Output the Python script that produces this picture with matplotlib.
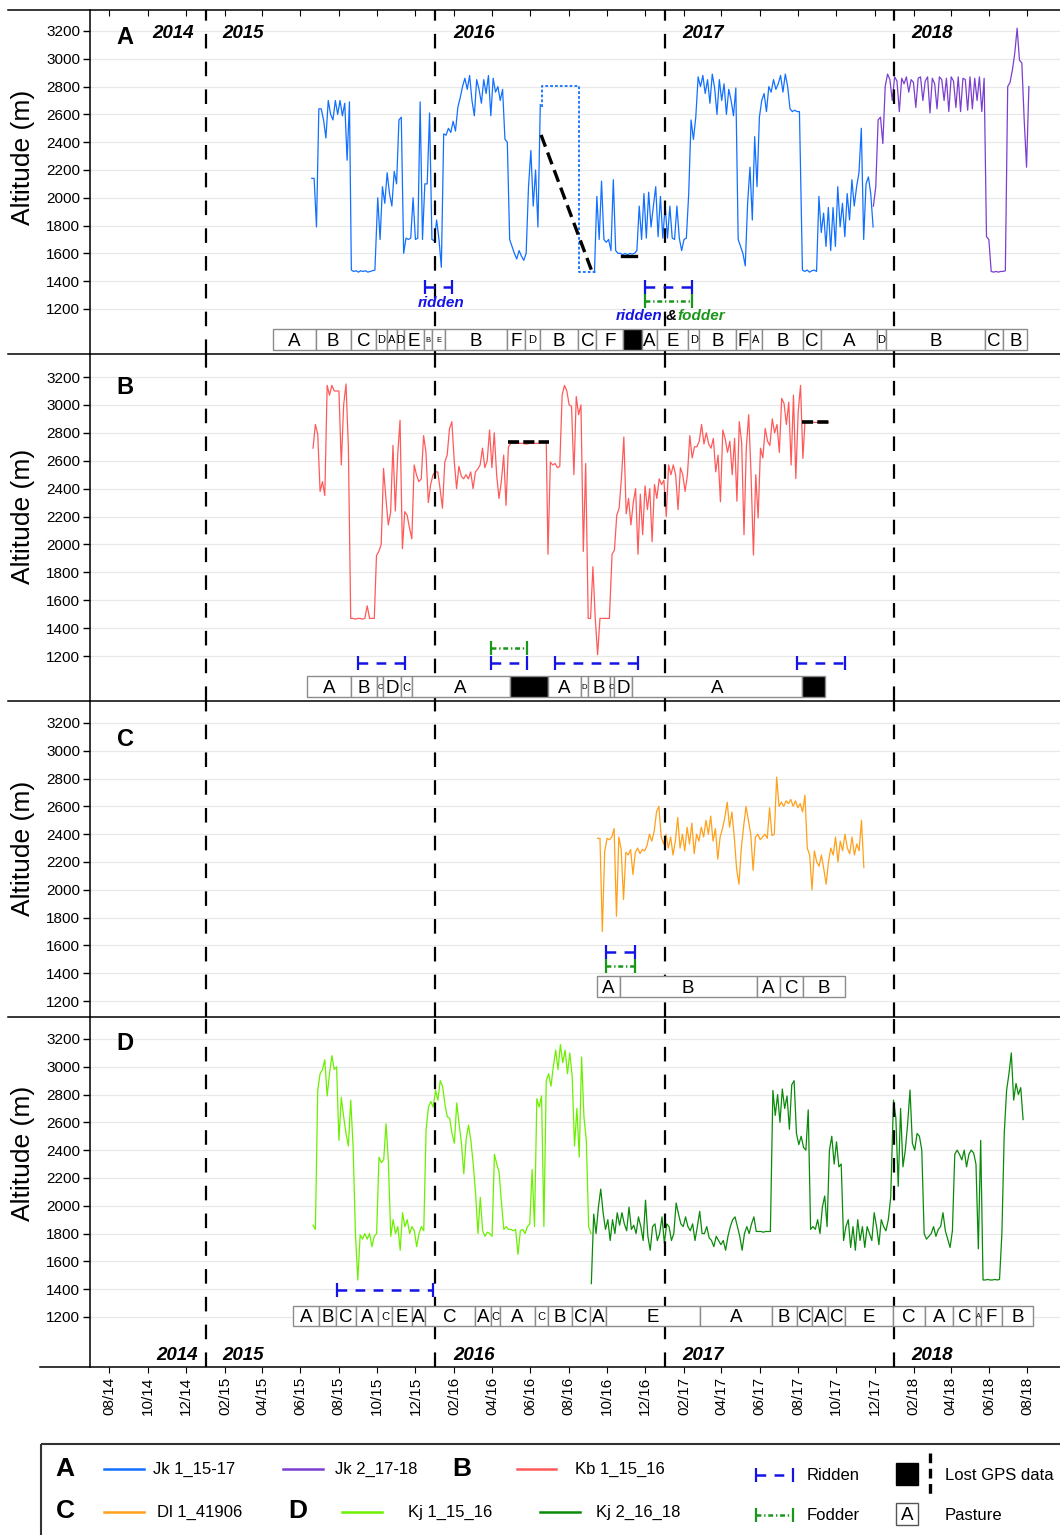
import numpy as np
import pandas as pd
import matplotlib
matplotlib.use('Agg')
import matplotlib.pyplot as plt
import matplotlib.dates as mdates
from matplotlib.patches import Rectangle

plt.rcParams['font.family'] = ['Liberation Sans', 'DejaVu Sans']
plt.rcParams['lines.scale_dashes'] = False

# ---------------- data (GPS altitude, m; one fix every 90 h) ----------------
# Jk 1_15-17
jk1_seg1_start = '2015-06-19'
jk1_seg1 = [2140, 2140, 1790, 2640, 2640, 2560, 2430, 2700, 2600, 2560, 2700, 2600, 2700, 2590, 2680, 2270, 2690]
jk1_seg2_start = '2015-08-21'
jk1_seg2 = [1480, 1470, 1475, 1465, 1475, 1470, 1475, 1465, 1470, 1475, 1480]
jk1_seg3_start = '2015-10-02'
jk1_seg3 = [2000, 1700, 2080, 1960, 2180, 2030, 1940, 2190, 2100, 2560, 2580, 1600, 1710, 1700, 1710, 2000,
            1700, 1710, 2690, 1700, 2100, 2100, 2610, 1700, 1690, 1840, 1700, 1500]
jk1_seg4_start = '2016-01-15'
jk1_seg4 = [2460, 2450, 2500, 2470, 2550, 2480, 2650, 2720, 2800, 2860, 2780, 2880, 2700, 2590, 2850, 2780,
            2680, 2850, 2750, 2880, 2590, 2860, 2760, 2800, 2700, 2780, 2420, 2400, 1700, 1650, 1600, 1560,
            1620, 1580, 1550, 1600, 2080, 2340, 1940, 2200, 1790, 2670]
jk1_seg5_start = '2016-09-11'
jk1_seg5 = [1466, 2010, 1700, 2120, 1700, 1680, 1700, 1620, 2130, 1620, 1600, 1600, 1590, 1600, 1590, 1600,
            1595, 1600, 1620, 1940, 1700, 2030, 1710, 2040, 1790, 1940, 2080, 1720, 2010, 1710, 1940, 1710,
            1940, 1710, 1700, 1940, 1710, 1620, 1700, 1710, 2030, 2560, 2420, 2580, 2870, 2800, 2880, 2750,
            2850, 2680, 2890, 2790, 2600, 2850, 2700, 2820, 2600, 2780, 2700, 2590, 2790, 1700, 1650, 1600,
            1510, 1960, 2220, 1840, 2440, 2080, 2580, 2700, 2750, 2620, 2800, 2760, 2850, 2780, 2820, 2880,
            2760, 2890, 2800, 2640, 2620, 2630, 2620, 2620]
jk1_seg6_start = '2017-08-08'
jk1_seg6 = [1480, 1470, 1480, 1465, 1475, 1480, 1470, 2010, 1750, 1890, 1650, 1930, 1620, 1930, 1650, 2080,
            1790, 1960, 1720, 2030, 1840, 2130, 1940, 2080, 2180, 2500, 1700, 2100, 2150, 2030, 1790]
# Jk 2_17-18
jk2_start = '2017-11-29'
jk2 = [1940, 2080, 2560, 2580, 2390, 2800, 2890, 2850, 2700, 2870, 2840, 2620, 2860, 2820, 2870, 2760,
       2850, 2830, 2650, 2860, 2870, 2700, 2840, 2870, 2610, 2860, 2820, 2640, 2870, 2850, 2700, 2860,
       2620, 2870, 2840, 2650, 2870, 2620, 2860, 2850, 2630, 2870, 2640, 2860, 2700, 2870, 2620, 2860,
       1720, 1700, 1470, 1465, 1470, 1465, 1470, 1470, 1475, 2800, 2830, 2920, 3040, 3220, 2990, 2970,
       2560, 2220, 2800]
# Kb 1_15_16
kb_seg1_start = '2015-06-21'
kb_seg1 = [2690, 2860, 2790, 2380, 2450, 2350, 3140, 3070, 3140, 3100, 3100, 3100, 2570, 3000, 3150, 2700]
kb_seg2_start = '2015-08-20'
kb_seg2 = [1470, 1470, 1465, 1470, 1470, 1465, 1470, 1560, 1470, 1470, 1470]
kb_seg3_start = '2015-09-30'
kb_seg3 = [1920, 1950, 2000, 2545, 2330, 2140, 2230, 2710, 2240, 2640, 2890, 1970, 2235, 2210, 2120, 2040,
           2570, 2497, 2450, 2470, 2780, 2660, 2300, 2430, 2500, 2520, 2520, 2400, 2260, 2590, 2640, 2830,
           2880, 2600, 2400, 2560, 2490, 2470, 2500, 2470, 2520, 2400, 2520, 2540, 2570, 2690, 2550, 2600,
           2820, 2550, 2800, 2500, 2330, 2450, 2640, 2280, 2700]
kb_seg4_start = '2016-05-01'
kb_seg4 = [2725, 2725, 2725, 2725, 2725, 2725, 2720, 2720, 2725, 2725, 2725, 2725, 2725, 2730, 2730, 2730]
kb_seg5_start = '2016-06-29'
kb_seg5 = [1930, 2590, 2570, 2580, 2550, 2560, 3070, 3140, 3100, 3000, 2990, 2500, 3060, 2930, 3000, 1950, 2580]
kb_seg6_start = '2016-09-01'
kb_seg6 = [1470, 1470, 1840, 1470, 1210, 1470, 1470, 1470, 1470, 1470]
kb_seg7_start = '2016-10-09'
kb_seg7 = [1930, 1960, 2210, 2260, 2480, 2770, 2220, 2330, 2140, 2300, 2400, 1930, 2360, 2070, 2420, 2250,
           2400, 2020, 2430, 2330, 2470, 2430, 2460, 2200, 2570, 2500, 2570, 2497, 2250, 2550, 2500, 2380,
           2500, 2780, 2620, 2700, 2700, 2740, 2860, 2720, 2800, 2720, 2690, 2760, 2520, 2640, 2306, 2820,
           2760, 2660, 2740, 2500, 2760, 2310, 2880, 2730, 2070, 2700, 2930, 2500, 1924, 2500, 2190, 2690,
           2620, 2832, 2740, 2710, 2900, 2800, 2860, 2660, 3047, 3010, 2860, 3020, 2569, 3070, 2473, 2950,
           3140, 2617]
kb_seg8_start = '2017-08-12'
kb_seg8 = [2875, 2875, 2875, 2875, 2875, 2875, 2875, 2875, 2875, 2875, 2875]
# Dl 1_41906
dl_start = '2016-09-16'
dl = [2370, 2370, 1700, 2274, 2370, 2360, 2380, 2440, 1810, 2380, 2290, 1930, 2270, 2250, 2290, 2110,
      2270, 2300, 2260, 2290, 2280, 2320, 2400, 2350, 2420, 2560, 2600, 2380, 2330, 2400, 2300, 2380,
      2250, 2350, 2520, 2300, 2400, 2280, 2450, 2330, 2480, 2260, 2400, 2350, 2450, 2380, 2500, 2400,
      2530, 2350, 2440, 2220, 2380, 2440, 2520, 2630, 2450, 2560, 2380, 2150, 2040, 2300, 2460, 2600,
      2500, 2400, 2140, 2380, 2400, 2360, 2380, 2400, 2370, 2590, 2390, 2400, 2810, 2600, 2630, 2600,
      2640, 2620, 2650, 2600, 2640, 2590, 2620, 2560, 2680, 2300, 2250, 2000, 2280, 2200, 2170, 2250,
      2150, 2040, 2200, 2300, 2250, 2380, 2200, 2350, 2280, 2400, 2300, 2260, 2380, 2250, 2330, 2280,
      2500, 2160]
# Kj 1_15_16
kj1_seg1_start = '2015-06-21'
kj1_seg1 = [1860, 1830, 2830, 2950, 2980, 3050, 2790, 2950, 3080, 2980, 3000, 2470, 2780, 2640, 2520, 2430,
            2760, 2430, 1800, 1466, 1790, 1760, 1800, 1760, 1800, 1706, 1780, 1800, 2350, 2310, 2330, 2590,
            2310, 1780, 1900, 1800, 1850, 1680, 1950, 1850, 1900, 1800, 1850, 1820, 1706, 1800, 1850, 1820]
kj1_seg2_start = '2015-12-18'
kj1_seg2 = [2550, 2710, 2750, 2710, 2830, 2760, 2900, 2860, 2730, 2640, 2630, 2520, 2450, 2740, 2590, 2450,
            2230, 2480, 2580, 2470, 2300, 2090, 1800, 2060, 1820, 1780, 1810, 1800, 1780, 2370, 2300, 2240,
            2020, 1830, 1850, 1830, 1830, 1820, 1830, 1650, 1820, 1830, 1800, 1850, 1870, 2260, 1850, 2770,
            2710, 2790, 1850, 2900, 2950, 2860, 3000, 3120, 2980, 3160, 3030, 3120, 2950, 3100, 2930, 2430,
            2700, 2350, 3070, 2640, 2470, 1850, 1800]
# Kj 2_16_18
kj2_seg1_start = '2016-09-06'
kj2_seg1 = [1440, 1940, 1800, 1990, 2120, 1950, 1830, 1900, 1750, 1900, 1800, 1950, 1860, 1950, 1870, 1820,
            1990, 1830, 1860, 1800, 1920, 1850, 1750, 2040, 1780, 1680, 1850, 1870, 1750, 1800, 1920, 1730,
            1870, 1850, 1750, 1800, 2020, 1940, 1870, 1850, 1920, 1850, 1820, 1870, 1750, 1850, 1960, 1800,
            1800, 1850, 1770, 1750, 1706, 1780, 1750, 1720, 1750, 1680, 1780, 1850, 1900, 1920, 1850, 1780,
            1680, 1800, 1850, 1800, 1870, 1920, 1815, 1815, 1815, 1810, 1815, 1815, 1815]
kj2_seg2_start = '2017-06-22'
kj2_seg2 = [2830, 2650, 2800, 2600, 2840, 2700, 2790, 2550, 2870, 2900, 2520, 2440, 2500, 2420, 2400, 2690,
            1830, 1850, 1830, 1900, 1800, 1990, 2070, 1850, 2400, 2500, 2300, 2460, 2280, 2300, 1750, 1850,
            1900, 1700, 1850, 1680, 1900, 1750, 1850, 1700, 1850, 1800, 1750, 1950, 1850, 1720, 1900, 1850,
            1820, 1900, 2060]
kj2_seg3_start = '2017-12-31'
kj2_seg3 = [2760, 2630, 2140, 2700, 2280, 2400, 2590, 2833, 2450, 2400, 2520, 2500, 2400, 1800, 1760, 1780,
            1800, 1850, 1780, 1830, 1850, 1950, 1820, 1760, 1700, 1820, 2370, 2400, 2370, 2330, 2400, 2280,
            2370, 2400, 2380, 2300, 1690, 2470, 1466, 1466, 1470, 1466, 1466, 1470, 1466, 1470, 1800, 2520,
            2830, 2950, 3100, 2760, 2880, 2800, 2850, 2620]

# lost-GPS markers and the interpolated gap of Jk 1
jk1_gap_dates = ['2016-06-18', '2016-09-07']
jk1_gap_alt = [2452, 1469]
jk1_box_dates = ['2016-06-19', '2016-06-19', '2016-08-18', '2016-08-18', '2016-09-15']
jk1_box_alt = [2650, 2804, 2804, 1464, 1464]
jk1_lost_dates = ['2016-10-25', '2016-11-16']
jk1_lost_alt = 1581
kb_lost = [('2016-04-27', '2016-06-30', 2731), ('2017-08-08', '2017-09-21', 2875)]

# ridden / fodder periods
ridden_a = [('2015-12-16', '2016-01-29'), ('2016-11-30', '2017-02-13')]
fodder_a = [('2016-11-30', '2017-02-13')]
ridden_b = [('2015-08-31', '2015-11-14'), ('2016-03-30', '2016-05-26'),
            ('2016-07-10', '2016-11-20'), ('2017-07-31', '2017-10-14')]
fodder_b = [('2016-03-30', '2016-05-26')]
ridden_c = [('2016-09-29', '2016-11-14')]
fodder_c = [('2016-09-29', '2016-11-14')]
ridden_d = [('2015-07-29', '2015-12-29')]

# pastures ('#' = lost GPS data)
past_a_edges = ['2015-04-19', '2015-06-25', '2015-08-20', '2015-09-29', '2015-10-16', '2015-11-01',
                '2015-11-13', '2015-12-14', '2015-12-28', '2016-01-17', '2016-04-25', '2016-05-24',
                '2016-06-16', '2016-08-16', '2016-09-14', '2016-10-27', '2016-11-25', '2016-12-20',
                '2017-02-07', '2017-02-25', '2017-04-25', '2017-05-17', '2017-06-04', '2017-08-09',
                '2017-09-07', '2017-12-04', '2017-12-19', '2018-05-25', '2018-06-24', '2018-08-01']
past_a_labels = ['A', 'B', 'C', 'D', 'A', 'D', 'E', 'B', 'E', 'B', 'F', 'D', 'B', 'C', 'F', '#', 'A', 'E',
                 'D', 'B', 'F', 'A', 'B', 'C', 'A', 'D', 'B', 'C', 'B']
past_b_edges = ['2015-06-12', '2015-08-20', '2015-10-01', '2015-10-10', '2015-11-08', '2015-11-25',
                '2016-04-29', '2016-06-29', '2016-08-21', '2016-08-31', '2016-10-05', '2016-10-12',
                '2016-11-10', '2017-08-07', '2017-09-13']
past_b_labels = ['A', 'B', 'C', 'D', 'C', 'A', '#', 'A', 'D', 'B', 'C', 'D', 'A', '#']
past_c_edges = ['2016-09-15', '2016-10-21', '2017-05-27', '2017-07-03', '2017-08-09', '2017-10-15']
past_c_labels = ['A', 'B', 'A', 'C', 'B']
past_d_edges = ['2015-05-20', '2015-07-01', '2015-07-27', '2015-08-28', '2015-10-03', '2015-10-24',
                '2015-11-25', '2015-12-16', '2016-03-05', '2016-03-31', '2016-04-13', '2016-06-08',
                '2016-06-29', '2016-08-06', '2016-09-04', '2016-09-30', '2017-02-26', '2017-06-20',
                '2017-07-30', '2017-08-23', '2017-09-18', '2017-10-15', '2017-12-30', '2018-02-19',
                '2018-04-05', '2018-05-12', '2018-05-20', '2018-06-21', '2018-08-10']
past_d_labels = ['A', 'B', 'C', 'A', 'C', 'E', 'A', 'C', 'A', 'C', 'A', 'C', 'B', 'C', 'A', 'E', 'A', 'B',
                 'C', 'A', 'C', 'E', 'C', 'A', 'C', 'A', 'F', 'B']
# letter size per cell (L large, S small, T tiny)
past_a_size = 'LLLSSSLTTLLSLLLLLLSLLSLLLSLLL'
past_b_size = 'LLTLSLLLTLTLLL'
past_c_size = 'LLLLL'
past_d_size = 'LLLLSLLLLSLSLLLLLLLLLLLLLTLL'

# ---------------- styles ----------------
C_JK1, C_JK2, C_KB = '#1170ff', '#7b3fd0', '#ff5a5a'
C_DL, C_KJ1, C_KJ2 = '#ffa01a', '#6cf000', '#0a8a0a'
C_RID, C_FOD = '#1414e6', '#1a961a'
RID_DASH, FOD_DASH = (7, 6), (3.5, 2, 1, 2)
LW = 0.9

W, H = 1060, 1535
fig = plt.figure(figsize=(W / 100, H / 100), dpi=100)
XMIN, XMAX = pd.Timestamp('2014-07-01'), pd.Timestamp('2018-09-22')
YEARS = pd.to_datetime(['2015-01-01', '2016-01-01', '2017-01-01', '2018-01-01'])


def rect(y0, y1, x0=90, x1=1060):
    return [x0 / W, 1 - y1 / H, (x1 - x0) / W, (y1 - y0) / H]


def build(*segs):
    t, v = [], []
    for start, vals in segs:
        t.extend(pd.date_range(start, periods=len(vals), freq='90h'))
        v.extend(vals)
    return t, v


def setup(ax, ylim):
    ax.set_xlim(XMIN, XMAX)
    ax.set_ylim(*ylim)
    for s in ['top', 'right', 'bottom']:
        ax.spines[s].set_visible(False)
    ax.spines['left'].set_linewidth(1.1)
    ax.set_yticks(range(1200, 3201, 200))
    ax.tick_params(axis='y', direction='out', length=5, width=1, labelsize=11, pad=2)
    ax.grid(True, axis='y', color='#e8e8e8', lw=0.9)
    ax.set_axisbelow(True)
    ax.xaxis.set_major_locator(mdates.MonthLocator(bymonth=[2, 4, 6, 8, 10, 12]))
    ax.tick_params(axis='x', bottom=False, labelbottom=False)
    ax.patch.set_alpha(0)
    for y in YEARS:
        ax.axvline(y, color='black', lw=1.6, dashes=(10.5, 9.5), zorder=6)


def pasture(ax, edges, labels, sizes, y0, y1):
    e = mdates.date2num(pd.to_datetime(edges))
    fs = {'L': 13.5, 'S': 8, 'T': 5.5}
    for a, b, lab, s in zip(e[:-1], e[1:], labels, sizes):
        black = lab == '#'
        ax.add_patch(Rectangle((a, y0), b - a, y1 - y0, facecolor='black' if black else 'white',
                               edgecolor='#8c8c8c', lw=1, zorder=7))
        if not black:
            ax.text((a + b) / 2, (y0 + y1) / 2, lab, ha='center', va='center_baseline',
                    fontsize=fs[s], zorder=8)


def interval(ax, periods, y, color, dashes):
    for a, b in periods:
        t = pd.to_datetime([a, b])
        ax.plot(t, [y, y], color=color, lw=1.8, dashes=dashes, zorder=7)
        ax.plot(t, [y, y], ls='none', marker='|', ms=10, mew=1.6, color=color, zorder=7)


axA = fig.add_axes(rect(10, 354))
axB = fig.add_axes(rect(354, 701))
axC = fig.add_axes(rect(701, 1017))
axD = fig.add_axes(rect(1017, 1367))
setup(axA, (876, 3351))
setup(axB, (878, 3365))
setup(axC, (1085, 3358))
setup(axD, (840, 3358))

# panel A
t, v = build((jk1_seg1_start, jk1_seg1), (jk1_seg2_start, jk1_seg2),
             (jk1_seg3_start, jk1_seg3), (jk1_seg4_start, jk1_seg4))
axA.plot(t, v, color=C_JK1, lw=LW)
t, v = build((jk1_seg5_start, jk1_seg5), (jk1_seg6_start, jk1_seg6))
axA.plot(t, v, color=C_JK1, lw=LW)
t, v = build((jk2_start, jk2))
axA.plot(t, v, color=C_JK2, lw=LW)
axA.plot(pd.to_datetime(jk1_box_dates), jk1_box_alt, color=C_JK1, lw=1.3, dashes=(2, 1.5))
axA.plot(pd.to_datetime(jk1_gap_dates), jk1_gap_alt, color='black', lw=2.4, dashes=(9, 4.5), zorder=5)
axA.plot(pd.to_datetime(jk1_lost_dates), [jk1_lost_alt] * 2, color='black', lw=2.4, zorder=5)
interval(axA, ridden_a, 1358, C_RID, RID_DASH)
interval(axA, fodder_a, 1258, C_FOD, FOD_DASH)
pasture(axA, past_a_edges, past_a_labels, past_a_size, 905, 1056)

# panel B
t, v = build((kb_seg1_start, kb_seg1), (kb_seg2_start, kb_seg2), (kb_seg3_start, kb_seg3),
             (kb_seg4_start, kb_seg4), (kb_seg5_start, kb_seg5), (kb_seg6_start, kb_seg6),
             (kb_seg7_start, kb_seg7), (kb_seg8_start, kb_seg8))
axB.plot(t, v, color=C_KB, lw=LW)
for a, b, alt in kb_lost:
    axB.plot(pd.to_datetime([a, b]), [alt, alt], color='black', lw=2.6, dashes=(8, 3), zorder=5)
interval(axB, ridden_b, 1150, C_RID, RID_DASH)
interval(axB, fodder_b, 1257, C_FOD, FOD_DASH)
pasture(axB, past_b_edges, past_b_labels, past_b_size, 906, 1057)

# panel C
t, v = build((dl_start, dl))
axC.plot(t, v, color=C_DL, lw=LW)
interval(axC, ridden_c, 1553, C_RID, RID_DASH)
interval(axC, fodder_c, 1452, C_FOD, FOD_DASH)
pasture(axC, past_c_edges, past_c_labels, past_c_size, 1229, 1380)

# panel D
t, v = build((kj1_seg1_start, kj1_seg1), (kj1_seg2_start, kj1_seg2))
axD.plot(t, v, color=C_KJ1, lw=LW)
t, v = build((kj2_seg1_start, kj2_seg1), (kj2_seg2_start, kj2_seg2), (kj2_seg3_start, kj2_seg3))
axD.plot(t, v, color=C_KJ2, lw=LW)
interval(axD, ridden_d, 1394, C_RID, RID_DASH)
pasture(axD, past_d_edges, past_d_labels, past_d_size, 1135, 1279)

axD.xaxis.set_major_formatter(mdates.DateFormatter('%m/%y'))
axD.tick_params(axis='x', bottom=True, labelbottom=True, direction='out', length=4,
                labelsize=11, labelrotation=90, pad=3)
axA.tick_params(axis='x', top=True, direction='in', length=4)

# ---------------- overlay in pixel units: frame lines, labels, legend ----------------
ov = fig.add_axes([0, 0, 1, 1])
ov.set_xlim(0, W)
ov.set_ylim(H, 0)
ov.axis('off')
ov.patch.set_alpha(0)

for y, x0 in [(10, 8), (354, 8), (701, 8), (1017, 8), (1367, 40)]:
    ov.plot([x0, W], [y, y], color='black', lw=1.1)

for yc in [157, 516, 848, 1153]:
    ov.text(23, yc, 'Altitude (m)', rotation=90, ha='center', va='center', fontsize=19)
for lab, yc in zip('ABCD', [38, 388, 740, 1043]):
    ov.text(125, yc, lab, ha='center', va='center', fontsize=17, fontweight='bold')

for yr, xt, xb in [('2014', 173, 177), ('2015', 243, 243), ('2016', 474, 474),
                   ('2017', 703, 703), ('2018', 932, 932)]:
    ov.text(xt, 34, yr, ha='center', va='center', fontsize=13.5, fontweight='bold', style='italic')
    ov.text(xb, 1355, yr, ha='center', va='center', fontsize=13.5, fontweight='bold', style='italic')

bi = dict(fontsize=11, fontweight='bold', style='italic', va='center')
ov.text(441, 303, 'ridden', ha='center', color=C_RID, **bi)
ov.text(662, 316, 'ridden', ha='right', color=C_RID, **bi)
ov.text(666, 316, '&', ha='left', color='black', **bi)
ov.text(677, 316, 'fodder', ha='left', color=C_FOD, **bi)

# legend
ov.add_patch(Rectangle((41, 1444), W, 100, fill=False, edgecolor='#333333', lw=1.5))
for lab, x, y in [('A', 65, 1469), ('B', 462, 1469), ('C', 65, 1511), ('D', 298, 1511)]:
    ov.text(x, y, lab, ha='center', va='center', fontsize=19, fontweight='bold')
for x0, x1, y, c, txt, xt in [(104, 144, 1469, C_JK1, 'Jk 1_15-17', 153),
                              (283, 323, 1469, C_JK2, 'Jk 2_17-18', 335),
                              (517, 556, 1469, C_KB, 'Kb 1_15_16', 575),
                              (104, 144, 1512, C_DL, 'Dl 1_41906', 157),
                              (342, 382, 1512, C_KJ1, 'Kj 1_15_16', 408),
                              (540, 580, 1512, C_KJ2, 'Kj 2_16_18', 596)]:
    ov.plot([x0, x1], [y, y], color=c, lw=1.8)
    ov.text(xt, y, txt, ha='left', va='center', fontsize=12)
for y, c, d, txt in [(1475, C_RID, RID_DASH, 'Ridden'), (1515, C_FOD, FOD_DASH, 'Fodder')]:
    ov.plot([756, 793], [y, y], color=c, lw=1.8, dashes=d)
    ov.plot([756, 793], [y, y], ls='none', marker='|', ms=10, mew=1.6, color=c)
    ov.text(807, y, txt, ha='left', va='center', fontsize=12)
ov.add_patch(Rectangle((896, 1463), 22, 22, facecolor='black', edgecolor='black'))
ov.plot([930, 930], [1453, 1497], color='black', lw=2.4, dashes=(7, 4))
ov.text(945, 1475, 'Lost GPS data', ha='left', va='center', fontsize=12)
ov.add_patch(Rectangle((896, 1503), 22, 22, facecolor='white', edgecolor='#555555', lw=1))
ov.text(907, 1514, 'A', ha='center', va='center_baseline', fontsize=13.5)
ov.text(945, 1515, 'Pasture', ha='left', va='center', fontsize=12)

fig.savefig('out.png', dpi=100)
